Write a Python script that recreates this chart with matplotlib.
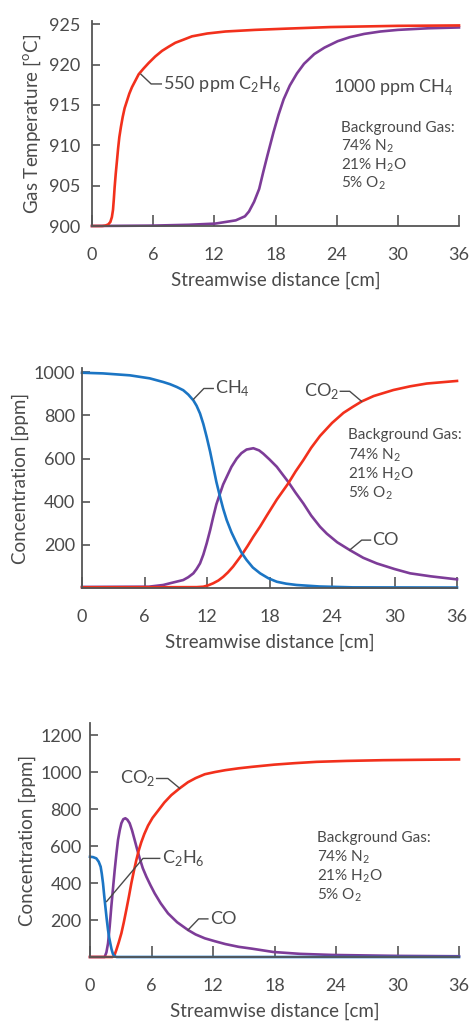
import matplotlib
matplotlib.use('Agg')
import matplotlib.pyplot as plt

plt.rcParams['font.family'] = ['Lato', 'DejaVu Sans']
plt.rcParams['mathtext.fontset'] = 'custom'
plt.rcParams['mathtext.rm'] = 'Lato'

RED = '#f2301c'
PURPLE = '#7d3c98'
BLUE = '#1b75c4'
GREY = '#4a4a4a'

# ---- panel 1: gas temperature ----
t_c2h6_x = [0, 1.0, 1.31, 1.6, 1.80, 1.95, 2.06, 2.14, 2.22, 2.33, 2.45, 2.56, 2.68, 2.84, 3.01, 3.2, 3.43,
            3.66, 3.92, 4.25, 4.58, 5.05, 5.56, 6.2, 6.87, 7.5, 8.17, 9.0, 9.81, 11.3, 13.1, 16.0, 19.0,
            23.4, 30.0, 36.0]
t_c2h6_y = [900, 900, 900.05, 900.2, 900.5, 901.1, 902.0, 903.3, 904.8, 906.5, 908.1, 909.6, 911.0, 912.3,
            913.5, 914.6, 915.5, 916.4, 917.2, 918.0, 918.8, 919.5, 920.2, 921.0, 921.7, 922.2, 922.7,
            923.1, 923.5, 923.85, 924.1, 924.3, 924.45, 924.65, 924.8, 924.85]
t_ch4_x = [0, 6, 9.5, 12.1, 14.1, 15.0, 15.4, 15.9, 16.4, 16.8, 17.2, 17.8, 18.3, 18.8, 19.4, 20.1, 20.8,
           21.8, 22.8, 24.1, 25.3, 26.7, 28.3, 30.0, 33.0, 36.0]
t_ch4_y = [900, 900.05, 900.15, 900.3, 900.7, 901.2, 901.8, 903.0, 904.6, 906.7, 908.7, 911.6, 913.8,
           915.7, 917.4, 918.9, 920.1, 921.3, 922.1, 922.9, 923.4, 923.8, 924.1, 924.3, 924.5, 924.6]

# ---- panel 2: 1000 ppm CH4 ----
m_ch4_x = [0, 2, 4.6, 6.5, 7.8, 8.45, 9.1, 9.72, 10.2, 10.69, 11.0, 11.33, 11.65, 11.97, 12.3, 12.6, 12.9,
           13.25, 13.55, 13.89, 14.35, 14.85, 15.3, 15.8, 16.4, 17.1, 17.9, 18.7, 19.6, 20.6, 22.8, 26.0, 36.0]
m_ch4_y = [998, 995, 986, 972, 955, 945, 932, 917, 897, 870, 845, 809, 760, 700, 632, 562, 492, 423, 368,
           315, 258, 207, 165, 130, 95, 68, 45, 29, 20, 14, 7, 3, 2]
m_co_x = [0, 6.4, 7.8, 8.45, 9.72, 10.2, 10.69, 11.0, 11.33, 11.65, 11.97, 12.3, 12.6, 12.9, 13.25, 13.55,
          13.89, 14.35, 14.85, 15.3, 15.8, 16.45, 17.0, 17.4, 18.0, 18.7, 19.2, 19.8, 20.5, 21.25, 22.0,
          22.85, 23.5, 24.5, 25.7, 27.0, 28.3, 30.0, 31.5, 33.5, 36.0]
m_co_y = [5, 6, 14, 22, 37, 50, 68, 88, 114, 155, 207, 268, 330, 388, 438, 480, 515, 562, 600, 625, 642,
          648, 638, 623, 596, 562, 530, 492, 442, 392, 336, 284, 252, 212, 176, 140, 114, 88, 68, 54, 40]
m_co2_x = [0, 11.0, 11.65, 12.1, 12.6, 13.1, 13.56, 14.0, 14.5, 14.9, 15.33, 15.9, 16.45, 17.1, 17.73,
           18.7, 19.8, 20.5, 21.25, 22.0, 22.85, 24.0, 25.1, 26.0, 26.85, 28.0, 29.9, 31.5, 33.1, 36.0]
m_co2_y = [3, 4, 6, 12, 22, 35, 52, 72, 99, 125, 153, 195, 238, 285, 335, 410, 485, 540, 593, 650, 705,
           765, 812, 840, 865, 890, 918, 935, 948, 960]

# ---- panel 3: 550 ppm C2H6 ----
b_c2h6_x = [0, 0.3, 0.62, 0.85, 1.04, 1.15, 1.27, 1.38, 1.5, 1.63, 1.76, 1.87, 1.98, 2.1, 2.24, 2.4, 2.6, 36.0]
b_c2h6_y = [542, 540, 533, 515, 488, 450, 398, 335, 272, 205, 146, 105, 74, 42, 16, 4, 0, 0]
b_co_x = [0, 1.43, 1.6, 1.76, 1.92, 2.08, 2.25, 2.41, 2.57, 2.73, 2.9, 3.06, 3.25, 3.45, 3.65, 3.87, 4.1,
          4.36, 4.6, 4.85, 5.15, 5.5, 5.9, 6.31, 6.9, 7.61, 8.5, 9.56, 10.3, 11.2, 12.2, 13.2, 14.5, 15.8,
          17.9, 20.5, 23.7, 30.0, 36.0]
b_co_y = [0, 0, 25, 74, 165, 272, 375, 470, 555, 632, 685, 723, 745, 750, 742, 723, 685, 632, 582, 533,
          480, 434, 388, 344, 290, 236, 188, 146, 122, 101, 85, 70, 55, 45, 27, 17, 11, 6, 4]
b_co2_x = [0, 2.2, 2.4, 2.57, 2.8, 3.06, 3.3, 3.54, 3.8, 4.03, 4.27, 4.52, 4.75, 5.0, 5.3, 5.66, 6.1, 6.63,
           7.25, 7.93, 8.75, 9.56, 10.3, 11.2, 12.2, 13.2, 14.5, 15.8, 18.0, 20.0, 22.1, 25.0, 28.6, 32.0, 36.0]
b_co2_y = [0, 0, 12, 38, 78, 128, 188, 254, 328, 398, 462, 524, 575, 620, 665, 710, 752, 790, 835, 875,
           912, 945, 967, 988, 1000, 1010, 1020, 1028, 1040, 1048, 1055, 1060, 1064, 1066, 1068]

x_ticks = [0, 6, 12, 18, 24, 30, 36]
bg_lines = ['Background Gas:', r'74% N$_\mathregular{2}$', r'21% H$_\mathregular{2}$O', r'5% O$_\mathregular{2}$']

fig = plt.figure(figsize=(4.7, 10.21), dpi=100)
W, H = 470.0, 1021.0


def make_axes(left, right, top, bottom):
    return fig.add_axes([left / W, 1 - bottom / H, (right - left) / W, (bottom - top) / H])


def style(ax, ylim, yticks, ylabel, ypad, ylabelpad):
    ax.set_xlim(0, 36)
    ax.set_ylim(*ylim)
    ax.set_xticks(x_ticks)
    ax.set_yticks(yticks)
    ax.set_yticklabels([str(v) for v in yticks])
    for s in ['top', 'right']:
        ax.spines[s].set_visible(False)
    for s in ['left', 'bottom']:
        ax.spines[s].set_color('#555555')
        ax.spines[s].set_linewidth(1.3)
    ax.tick_params(axis='x', direction='in', length=8, width=1.2, color='#555555',
                   pad=15, labelsize=13, labelcolor=GREY)
    ax.tick_params(axis='y', direction='in', length=6, width=1.2, color='#555555',
                   pad=ypad, labelsize=13, labelcolor=GREY)
    ax.set_xlabel('Streamwise distance [cm]', fontsize=13.5, color=GREY, labelpad=6)
    ax.set_ylabel(ylabel, fontsize=13.5, color=GREY, labelpad=ylabelpad)


def leader(ax, pts, text, ha='left', dx=0.2):
    xs = [p[0] for p in pts]
    ys = [p[1] for p in pts]
    ax.plot(xs, ys, color=GREY, lw=1.0, clip_on=False)
    ax.text(xs[-1] + dx, ys[-1], text, fontsize=13, color=GREY, ha=ha, va='center')


def background(ax, x, y0, dy):
    for i, s in enumerate(bg_lines):
        ax.text(x, y0 - i * dy, s, fontsize=11, color=GREY, ha='left', va='center')


# panel 1
ax1 = make_axes(92, 459, 21, 226)
ax1.plot(t_ch4_x, t_ch4_y, color=PURPLE, lw=1.9, clip_on=False)
ax1.plot(t_c2h6_x, t_c2h6_y, color=RED, lw=1.9, clip_on=False)
style(ax1, (900, 925.4), [900, 905, 910, 915, 920, 925], r'Gas Temperature [$^\mathregular{o}$C]', 8.5, 4)
leader(ax1, [(4.8, 918.8), (5.8, 917.6), (6.8, 917.6)], r'550 ppm C$_\mathregular{2}$H$_\mathregular{6}$')
ax1.text(23.6, 917.2, r'1000 ppm CH$_\mathregular{4}$', fontsize=13, color=GREY, ha='left', va='center')
background(ax1, 24.4, 912.2, 2.3)

# panel 2
ax2 = make_axes(82, 457, 368, 588)
ax2.plot(m_co_x, m_co_y, color=PURPLE, lw=1.9, clip_on=False)
ax2.plot(m_co2_x, m_co2_y, color=RED, lw=1.9, clip_on=False)
ax2.plot(m_ch4_x, m_ch4_y, color=BLUE, lw=1.9, clip_on=False)
style(ax2, (0, 1020), [200, 400, 600, 800, 1000], 'Concentration [ppm]', 5, 3)
leader(ax2, [(10.7, 875), (11.7, 925), (12.6, 925)], r'CH$_\mathregular{4}$')
leader(ax2, [(26.85, 865), (25.7, 912), (24.8, 912)], r'CO$_\mathregular{2}$', ha='right', dx=-0.15)
leader(ax2, [(25.7, 176), (26.85, 222), (27.7, 222)], 'CO')
background(ax2, 25.5, 708, 90)

# panel 3
ax3 = make_axes(90, 459, 723, 957)
ax3.plot(b_co_x, b_co_y, color=PURPLE, lw=1.9, clip_on=False)
ax3.plot(b_co2_x, b_co2_y, color=RED, lw=1.9, clip_on=False)
ax3.plot(b_c2h6_x, b_c2h6_y, color=BLUE, lw=1.9, clip_on=False)
style(ax3, (0, 1265), [200, 400, 600, 800, 1000, 1200], 'Concentration [ppm]', 6, 3)
leader(ax3, [(8.75, 912), (7.6, 965), (6.5, 965)], r'CO$_\mathregular{2}$', ha='right', dx=-0.15)
leader(ax3, [(1.62, 300), (5.17, 533), (6.8, 533)], r'C$_\mathregular{2}$H$_\mathregular{6}$')
leader(ax3, [(9.56, 146), (10.6, 206), (11.5, 206)], 'CO')
background(ax3, 22.1, 643, 102)

fig.savefig('out.png', dpi=100)
